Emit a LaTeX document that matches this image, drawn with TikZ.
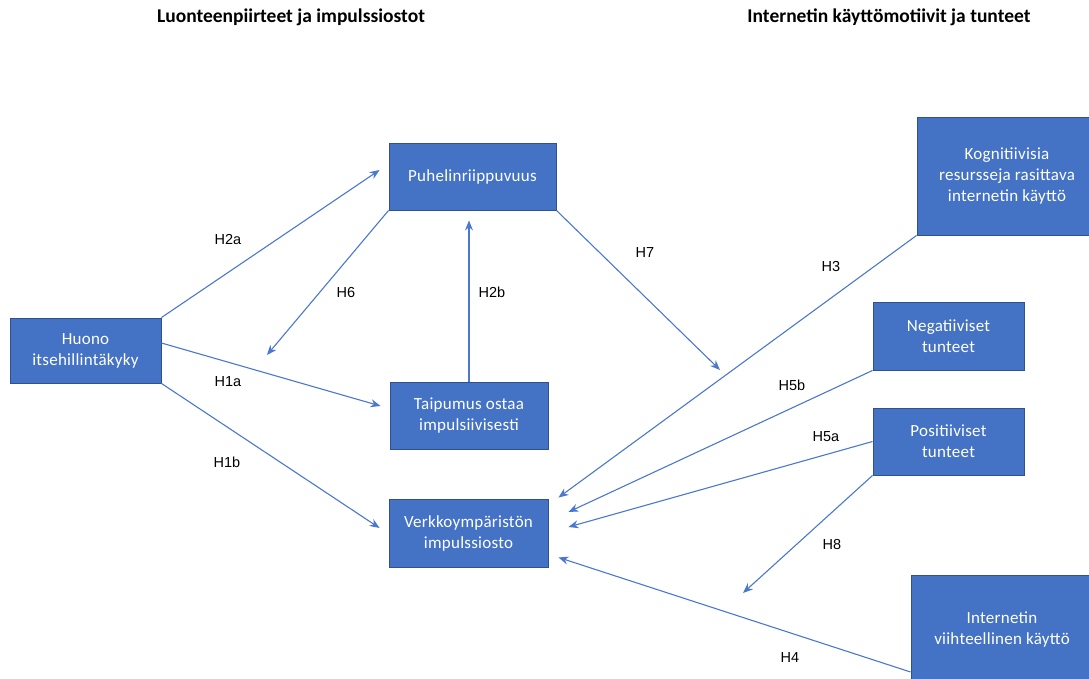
\documentclass[tikz,border=0pt]{standalone}
\usepackage{fontspec}
\setmainfont{Carlito}
\newfontfamily\boxfont{Carlito}[LetterSpace=1.5]
\newfontfamily\hypfont{Liberation Sans}
\usetikzlibrary{arrows.meta,calc}

\definecolor{boxblue}{HTML}{4472C4}
\definecolor{boxedge}{HTML}{2F528F}
\definecolor{linkblue}{HTML}{4A78D0}

\tikzset{
    factor/.style={draw=boxedge, line width=0.9pt, fill=boxblue, text=white,
        align=center, inner sep=0pt,
        font=\boxfont\fontsize{17}{21}\selectfont},
    link/.style={draw=linkblue, line width=1.1pt,
        -{Stealth[length=10pt,width=8pt]}},
    hyp/.style={font=\hypfont\fontsize{14.5}{17}\selectfont},
    heading/.style={font=\bfseries\fontsize{19.5}{23}\selectfont}
}

\begin{document}
\begin{tikzpicture}[x=1pt,y=-1pt]
        \useasboundingbox (0,0) rectangle (1089,679);

        % headings
        \node[heading] (left) at (291,17) {Luonteenpiirteet ja impulssiostot};
        \node[heading] (right) at (889,17) {Internetin käyttömotiivit ja tunteet};

        % boxes
        \node[factor, minimum width=151pt, minimum height=65pt] (huono) at (85.5,350.5) {Huono\\itsehillintäkyky};
        \node[factor, minimum width=167pt, minimum height=67pt] (puhelin) at (472.5,176.5) {Puhelinriippuvuus};
        \node[factor, minimum width=158pt, minimum height=67pt] (taipumus) at (469,415.5) {Taipumus ostaa\\impulsiivisesti};
        \node[factor, minimum width=159pt, minimum height=68pt] (verkko) at (468.5,533) {Verkkoympäristön\\impulssiosto};
        \node[factor, minimum width=180pt, minimum height=118pt] (kogn) at (1007,176) {Kognitiivisia\\resursseja rasittava\\internetin käyttö};
        \node[factor, minimum width=151pt, minimum height=68pt] (negat) at (948.5,336) {Negatiiviset\\tunteet};
        \node[factor, minimum width=151pt, minimum height=67pt] (posit) at (948.5,441.5) {Positiiviset\\tunteet};
        \node[factor, minimum width=182pt, minimum height=108pt] (viihde) at (1002,629) {Internetin\\viihteellinen käyttö};

        % free arrow ends
        \coordinate (h6end) at (267,355);
        \coordinate (h7end) at (720,370);
        \coordinate (h8end) at (743,593);

        % connectors
        \draw[link] (huono.north east) -- ($(puhelin.west)+(-9,-6.5)$);
        \draw[link] ($(huono.east)+(0,-7.5)$) -- ($(taipumus.west)+(-9,-9.5)$);
        \draw[link] (huono.south east) -- ($(verkko.west)+(-9,-5)$);
        \draw[link] (puhelin.south west) -- (h6end);
        \draw[link] (taipumus.north) -- ($(taipumus.north |- puhelin.south)+(0,10)$);
        \draw[link] (puhelin.south east) -- (h7end);
        \draw[link] (kogn.south west) -- ($(verkko.north east)+(10,-1)$);
        \draw[link] (negat.south west) -- ($(verkko.east)+(20,-21)$);
        \draw[link] (posit.west) -- ($(verkko.east)+(20,-6)$);
        \draw[link] (posit.south west) -- (h8end);
        \draw[link] ($(viihde.west)+(0,43)$) -- ($(verkko.south east)+(10,-10)$);

        % hypothesis labels
        \foreach \name/\x/\y in {H2a/228/240, H6/346/293, H2b/492/292, H1a/228/382,
                H1b/227/462, H7/645/253, H3/831/267, H5b/792/385, H5a/826/437,
                H8/832/545, H4/790/658} {
            \node[hyp] (lbl\name) at (\x,\y) {\name};
        }
    \end{tikzpicture}
\end{document}
